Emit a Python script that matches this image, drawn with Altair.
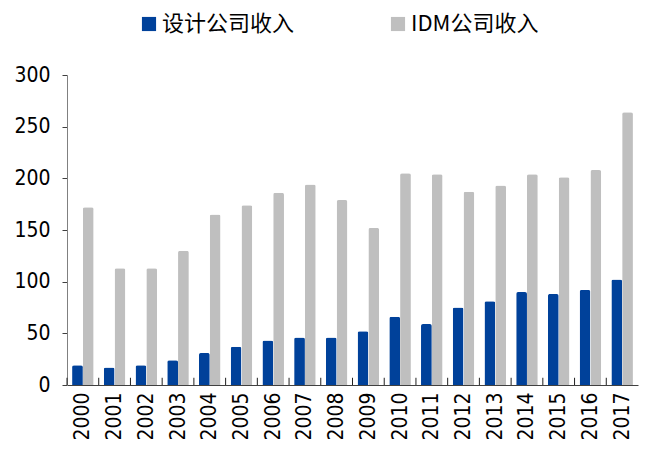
import altair as alt
import pandas as pd

years = [str(y) for y in range(2000, 2018)]
design = [19, 17, 19, 24, 31, 37, 43, 46, 46, 52, 66, 59, 75, 81, 90, 88, 92, 102]
idm = [172, 113, 113, 130, 165, 174, 186, 194, 179, 152, 205, 204, 187, 193, 204, 201, 208, 264]
series = ["设计公司收入", "IDM公司收入"]
colors = ["#00419A", "#BFBFBF"]

rows = []
for i, y in enumerate(years):
    rows.append({"year": y, "series": series[0], "value": design[i]})
    rows.append({"year": y, "series": series[1], "value": idm[i]})
df = pd.DataFrame(rows)

numfont = "DejaVu Sans Condensed"

xscale = alt.Scale(paddingInner=0, paddingOuter=0)

bars = alt.Chart(df).mark_bar(cornerRadiusTopLeft=2, cornerRadiusTopRight=2).encode(
    x=alt.X("year:N", scale=xscale, sort=years,
            axis=alt.Axis(title=None, labelAngle=270, labelFont=numfont, labelFontSize=21,
                          labelColor="#000", labelPadding=7, tickBand="extent", tickSize=0,
                          domainColor="#404040", labelAlign="right", labelBaseline="middle")),
    xOffset=alt.XOffset("series:N", sort=series,
                        scale=alt.Scale(domain=series, paddingInner=0, paddingOuter=0.47)),
    y=alt.Y("value:Q", scale=alt.Scale(domain=[0, 300], nice=False),
            axis=alt.Axis(title=None, values=[0, 50, 100, 150, 200, 250, 300], grid=False,
                          labelFont=numfont, labelFontSize=21, labelColor="#000",
                          domainColor="#808080", tickColor="#404040", tickSize=5, labelPadding=12)),
    color=alt.Color("series:N", sort=series,
                    scale=alt.Scale(domain=series, range=colors),
                    legend=alt.Legend(title=None, orient="none", direction="horizontal",
                                      legendX=71, legendY=-62,
                                      labelFont="Noto Sans CJK SC", labelFontSize=22, labelColor="#000",
                                      labelLimit=400,
                                      symbolType="square", symbolSize=200, symbolStrokeWidth=0,
                                      columnPadding=92, labelOffset=2)),
)

tickdf = pd.DataFrame({"year": years})
ticks = alt.Chart(tickdf).mark_rule(color="#202020", strokeWidth=1).encode(
    x=alt.X("year:N", sort=years, bandPosition=0),
    y=alt.datum(0),
    y2=alt.datum(7),
)

chart = alt.layer(bars, ticks).properties(
    width=571, height=310,
    padding={"left": 5, "top": 5, "right": 0, "bottom": 0},
).configure_view(stroke=None)
chart.save("out.html", embed_options={"renderer": "svg", "actions": False})
